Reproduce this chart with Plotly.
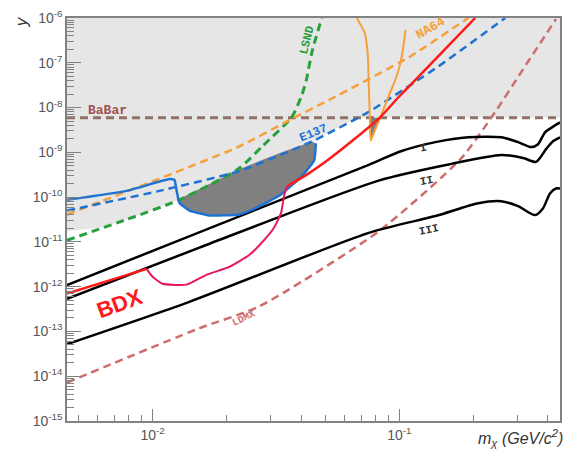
import math
import plotly.graph_objects as go

# ---------------- data ----------------
X_MIN, X_MAX = 0.0045, 0.448
Y_MIN, Y_MAX = 1e-15, 1e-6

# excluded (light gray) region lower boundary
excl_x = [0.004, 0.0045, 0.00628, 0.00785, 0.01285, 0.02244, 0.0443, 0.0676, 0.5]
excl_y = [1.72e-11, 1.72e-11, 2.1e-11, 3.16e-11, 8.7e-11, 4.2e-10, 1.75e-9, 5.9e-9, 5.9e-9]

# BaBar
babar_x = [0.0045, 0.448]
babar_y = [5.9e-9, 5.9e-9]

# LSND
lsnd_x = [0.0045, 0.00785, 0.01285, 0.02244, 0.0278, 0.0367, 0.040, 0.0419, 0.0443, 0.0485]
lsnd_y = [1.09e-11, 3.16e-11, 8.7e-11, 4.4e-10, 1.35e-9, 6.2e-9, 1.72e-8, 3.9e-8, 1.78e-7, 1e-6]

# NA64 (dashed)
na64_x = [0.0045, 0.02244, 0.0367, 0.0518, 0.109, 0.1905]
na64_y = [4.07e-11, 1.35e-9, 5.6e-9, 1.47e-8, 1.31e-7, 1e-6]

# E137 (dashed)
e137_x = [0.0045, 0.01067, 0.02244, 0.0443, 0.0752, 0.144, 0.2686]
e137_y = [4.99e-11, 1.38e-10, 3.81e-10, 1.75e-9, 8.0e-9, 8.3e-8, 1e-6]

# blue solid curve (outline of dark blob)
blue_x = [0.0045, 0.00785, 0.01171, 0.01227, 0.0125, 0.01285, 0.0141, 0.01699, 0.02244, 0.02535, 0.03256, 0.0403, 0.0452, 0.0459]
blue_y = [8.7e-11, 1.38e-10, 2.53e-10, 2.41e-10, 1.45e-10, 7.5e-11, 5.0e-11, 3.9e-11, 4.1e-11, 5.25e-11, 1.07e-10, 2.95e-10, 6.65e-10, 1.58e-9]

# dark blob top edge
blob_top_x = [0.01262, 0.01548, 0.02244, 0.03256, 0.0443, 0.0459]
blob_top_y = [8.7e-11, 1.53e-10, 4.2e-10, 9.5e-10, 1.75e-9, 1.58e-9]

# orange solid (visible decay) curve
orng_x = [0.0672, 0.0724, 0.0745, 0.0752, 0.0759, 0.0766, 0.0795, 0.0840, 0.0905, 0.0966, 0.1012, 0.1041, 0.1060]
orng_y = [1e-6, 4.67e-7, 1.53e-7, 3.33e-8, 7.24e-9, 1.84e-9, 3.05e-9, 6.22e-9, 1.81e-8, 4.28e-8, 1.02e-7, 2.53e-7, 5.43e-7]

# small dark triangle
tri_x = [0.0759, 0.0840, 0.0795, 0.0766]
tri_y = [5.9e-9, 5.9e-9, 3.05e-9, 1.84e-9]

# BDX red lines
bdx_lo_x = [0.0045, 0.00946]
bdx_lo_y = [7.0e-13, 2.49e-12]
bdx_hi_x = [0.0351, 0.0431, 0.0518, 0.0654, 0.0840, 0.0994, 0.1313, 0.203]
bdx_hi_y = [1.75e-10, 3.44e-10, 7.0e-10, 1.93e-9, 6.22e-9, 1.72e-8, 8.3e-8, 1e-6]

# pink curve
pink_x = [0.00946, 0.0100, 0.01097, 0.01372, 0.01652, 0.02047, 0.02464, 0.0278, 0.0311, 0.0332, 0.0341, 0.0351]
pink_y = [2.49e-12, 1.66e-12, 1.16e-12, 1.11e-12, 1.84e-12, 2.76e-12, 5.08e-12, 9.8e-12, 2.1e-11, 4.5e-11, 1.07e-10, 1.75e-10]

# LDMX
ldmx_x = [0.0045, 0.01548, 0.02704, 0.0825, 0.1784, 0.2447, 0.3116, 0.4315]
ldmx_y = [7.24e-15, 1.18e-13, 3.61e-13, 1.72e-11, 7.37e-10, 8.0e-9, 6.12e-8, 9.5e-7]

# black curves I, II, III
c1_x = [0.0045, 0.0752, 0.1022, 0.1401, 0.1905, 0.2588, 0.3031, 0.342, 0.3651, 0.3897, 0.4276, 0.448]
c1_y = [1.09e-12, 5.26e-10, 1.07e-9, 1.69e-9, 2.17e-9, 2.17e-9, 1.69e-9, 1.31e-9, 1.52e-9, 2.8e-9, 3.99e-9, 4.65e-9]
c2_x = [0.0045, 0.01548, 0.0825, 0.1626, 0.2588, 0.3176, 0.3583, 0.3933, 0.4198, 0.448]
c2_y = [5.35e-13, 7.45e-12, 2.34e-10, 5.53e-10, 8.73e-10, 7.5e-10, 6.12e-10, 1.18e-9, 1.77e-9, 2.17e-9]
c3_x = [0.0045, 0.0141, 0.0752, 0.1401, 0.209, 0.2588, 0.3031, 0.3551, 0.3825, 0.408, 0.4315, 0.448]
c3_y = [5.2e-14, 4.59e-13, 1.59e-11, 3.78e-11, 7.3e-11, 8.07e-11, 6.27e-11, 3.97e-11, 5.66e-11, 1.21e-10, 1.56e-10, 1.56e-10]

y_tickvals = [1e-15, 1e-14, 1e-13, 1e-12, 1e-11, 1e-10, 1e-9, 1e-8, 1e-7, 1e-6]
y_ticktext = ["10<sup>-15</sup>", "10<sup>-14</sup>", "10<sup>-13</sup>", "10<sup>-12</sup>", "10<sup>-11</sup>",
              "10<sup>-10</sup>", "10<sup>-9</sup>", "10<sup>-8</sup>", "10<sup>-7</sup>", "10<sup>-6</sup>"]
x_tickvals = [0.01, 0.1]
x_ticktext = ["10<sup>-2</sup>", "10<sup>-1</sup>"]

# ---------------- figure ----------------
GREEN = "rgb(40,160,60)"
ORANGE = "rgb(245,160,60)"
BLUE = "rgb(30,115,210)"
BROWN = "rgb(145,112,102)"
LDMXC = "rgb(205,110,110)"
RED = "rgb(255,25,25)"
PINK = "rgb(232,24,90)"
DASH = "8px,5px"

fig = go.Figure()

def add(x, y, **kw):
    fig.add_trace(go.Scatter(x=x, y=y, mode="lines", showlegend=False, hoverinfo="skip", **kw))

# excluded region
add(excl_x + [0.5, 0.004], excl_y + [1e-5, 1e-5], fill="toself",
    fillcolor="rgb(230,230,230)", line=dict(width=0))
# dark blob
add(blob_top_x + blue_x[5:][::-1], blob_top_y + blue_y[5:][::-1], fill="toself",
    fillcolor="rgb(128,128,128)", line=dict(width=0))
add(tri_x, tri_y, fill="toself", fillcolor="rgb(128,128,128)", line=dict(width=0))

add(babar_x, babar_y, line=dict(color=BROWN, width=3, dash=DASH))
add(lsnd_x, lsnd_y, line=dict(color=GREEN, width=3, dash=DASH, shape="spline", smoothing=0.6))
add(na64_x, na64_y, line=dict(color=ORANGE, width=2.5, dash=DASH, shape="spline", smoothing=0.5))
add(e137_x, e137_y, line=dict(color=BLUE, width=2.5, dash=DASH, shape="spline", smoothing=0.5))
add(ldmx_x, ldmx_y, line=dict(color=LDMXC, width=2.5, dash=DASH, shape="spline", smoothing=0.6))

for cx, cy in [(c1_x, c1_y), (c2_x, c2_y), (c3_x, c3_y)]:
    add(cx, cy, line=dict(color="black", width=2.5, shape="spline", smoothing=0.7))

add(blue_x, blue_y, line=dict(color=BLUE, width=2.5, shape="spline", smoothing=0.4))
add(orng_x, orng_y, line=dict(color=ORANGE, width=2, shape="spline", smoothing=0.5))
add(pink_x, pink_y, line=dict(color=PINK, width=2, shape="spline", smoothing=0.5))
add(bdx_lo_x, bdx_lo_y, line=dict(color=RED, width=2.5))
add(bdx_hi_x, bdx_hi_y, line=dict(color=RED, width=2.5, shape="spline", smoothing=0.5))

def ann(text, x, y, color, size, angle=0, family="Liberation Mono", bold=True):
    fig.add_annotation(x=math.log10(x), y=math.log10(y), xref="x", yref="y",
                       text=("<b>%s</b>" % text) if bold else text,
                       showarrow=False, textangle=angle,
                       font=dict(family=family, size=size, color=color))

ann("BaBar", 0.00658, 8.5e-9, "rgb(160,80,80)", 13)
ann("LSND", 0.0425, 3.2e-7, GREEN, 12, -76)
ann("NA64", 0.1337, 5.8e-7, ORANGE, 13, -30)
ann("E137", 0.0451, 2.7e-9, BLUE, 12, -22)
ann("I", 0.1253, 1.25e-9, "rgb(50,50,50)", 11, -12)
ann("II", 0.1291, 2.3e-10, "rgb(50,50,50)", 11, -12)
ann("III", 0.1324, 1.8e-11, "rgb(50,50,50)", 11, -12)
ann("BDX", 0.00735, 4.3e-13, RED, 22, -20, family="Liberation Sans")
ann("LDMX", 0.0235, 1.9e-13, LDMXC, 10, -25)

fig.add_annotation(x=-0.115, y=1.01, xref="paper", yref="paper", text="<i>y</i>", showarrow=False,
                   textangle=-90, font=dict(family="Liberation Sans", size=17, color="#333"))
fig.add_annotation(x=1.01, y=-0.075, xref="paper", yref="paper", xanchor="right",
                   text="<i>m<sub>χ</sub> (GeV/c<sup>2</sup>)</i>", showarrow=False,
                   font=dict(family="Liberation Sans", size=16, color="#333"))

AX = "rgb(130,130,130)"
x_minor = [0.005, 0.006, 0.007, 0.008, 0.009, 0.02, 0.03, 0.04, 0.05, 0.06, 0.07, 0.08, 0.09, 0.2, 0.3, 0.4]
y_minor = [m * 10.0 ** e for e in range(-15, -6) for m in range(2, 10)]

fig.update_xaxes(type="log", range=[math.log10(X_MIN), math.log10(X_MAX)],
                 showgrid=False, zeroline=False, showline=True, linecolor=AX, linewidth=1.5, mirror=True,
                 ticks="inside", ticklen=12, tickwidth=1.3, tickcolor=AX,
                 tickvals=x_tickvals, ticktext=x_ticktext,
                 tickfont=dict(family="Liberation Sans", size=14, color="#555"),
                 minor=dict(tickvals=x_minor, ticks="inside", ticklen=6, tickwidth=1.3, tickcolor=AX, showgrid=False))
fig.update_yaxes(type="log", range=[math.log10(Y_MIN), math.log10(Y_MAX)],
                 showgrid=False, zeroline=False, showline=True, linecolor=AX, linewidth=1.5, mirror=True,
                 ticks="inside", ticklen=14, tickwidth=1.3, tickcolor=AX,
                 tickvals=y_tickvals, ticktext=y_ticktext,
                 tickfont=dict(family="Liberation Sans", size=14, color="#555"),
                 minor=dict(tickvals=y_minor, ticks="inside", ticklen=7, tickwidth=1.3, tickcolor=AX, showgrid=False))

fig.update_layout(width=570, height=461, margin=dict(l=67, r=8, t=12, b=40),
                  paper_bgcolor="white", plot_bgcolor="white")

fig.write_html("out.html")
